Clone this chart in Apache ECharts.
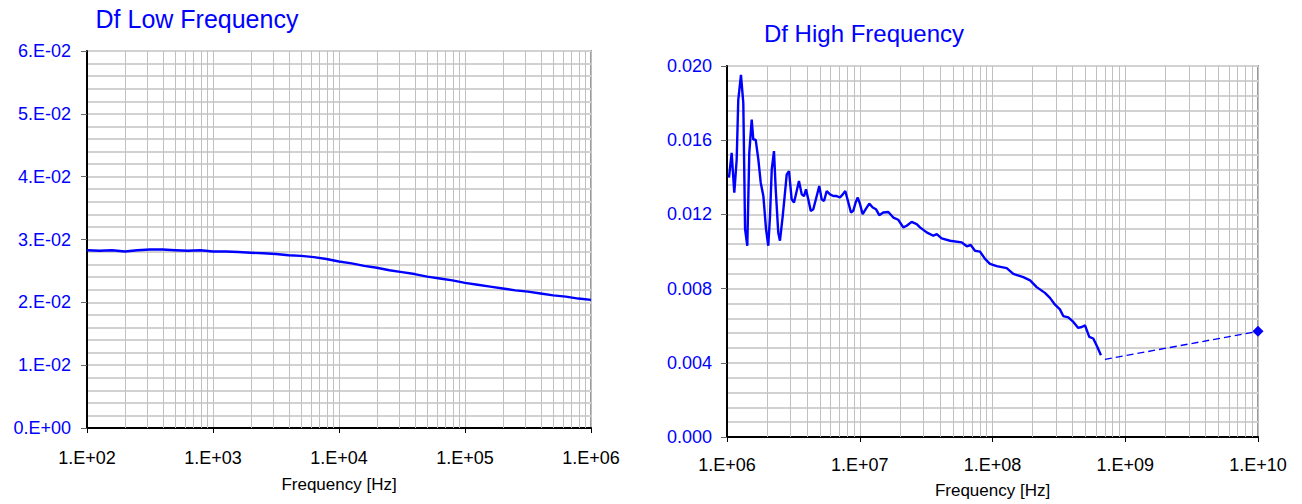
<!DOCTYPE html>
<html>
<head>
<meta charset="utf-8">
<title>Df Low / High Frequency</title>
<script src="https://cdn.jsdelivr.net/npm/echarts@6/dist/echarts.min.js"></script>
<style>
  html, body { margin: 0; padding: 0; background: #ffffff; }
  #chart { width: 1302px; height: 504px; }
</style>
</head>
<body>
<div id="chart"></div>
<script>
// ---- Low frequency sweep: frequency [Hz] and dissipation factor ----
const lowFreq = [
  100, 126, 158, 200, 251, 316, 398, 501, 631, 794,
  1000, 1259, 1585, 1995, 2512, 3162, 3981, 5012, 6310, 7943,
  10000, 12589, 15849, 19953, 25119, 31623, 39811, 50119, 63096, 79433,
  100000, 125893, 158489, 199526, 251189, 316228, 398107, 501187, 630957, 794328,
  1000000
];
const lowDf = [
  0.0283, 0.0282, 0.0283, 0.0281, 0.0283, 0.0284, 0.0284, 0.0283, 0.0282, 0.0283,
  0.0281, 0.0281, 0.0280, 0.0279, 0.0278, 0.0277, 0.0275, 0.0274, 0.0272, 0.0269,
  0.0265, 0.0262, 0.0258, 0.0255, 0.0251, 0.0248, 0.0245, 0.0241, 0.0238, 0.0235,
  0.0231, 0.0228, 0.0225, 0.0222, 0.0219, 0.0217, 0.0214, 0.0211, 0.0209, 0.0206,
  0.0204
];

// ---- High frequency sweep ----
const highFreq = [
  1.035e6, 1.084e6, 1.135e6, 1.183e6, 1.216e6, 1.274e6, 1.327e6, 1.368e6, 1.422e6, 1.472e6,
  1.535e6, 1.578e6, 1.644e6, 1.722e6, 1.795e6, 1.879e6, 1.968e6, 2.046e6, 2.109e6, 2.173e6,
  2.259e6, 2.328e6, 2.432e6, 2.506e6, 2.630e6, 2.735e6, 2.818e6, 2.931e6, 3.069e6, 3.199e6,
  3.350e6, 3.483e6, 3.656e6, 3.802e6, 3.936e6, 4.093e6, 4.276e6, 4.467e6, 4.742e6, 4.955e6,
  5.164e6, 5.383e6, 5.636e6, 5.970e6, 6.324e6, 6.699e6, 7.096e6, 7.447e6, 7.780e6, 8.204e6,
  8.590e6, 8.933e6, 9.311e6, 9.661e6, 1.005e7, 1.052e7, 1.109e7, 1.180e7, 1.253e7, 1.324e7,
  1.403e7, 1.503e7, 1.641e7, 1.791e7, 1.950e7, 2.128e7, 2.259e7, 2.460e7, 2.685e7, 2.844e7,
  3.192e7, 3.581e7, 3.802e7, 4.140e7, 4.786e7, 5.861e7, 6.397e7, 6.855e7, 7.379e7, 8.054e7,
  8.790e7, 9.572e7, 1.076e8, 1.279e8, 1.435e8, 1.706e8, 1.919e8, 2.153e8, 2.483e8, 2.710e8,
  2.958e8, 3.221e8, 3.412e8, 3.724e8, 4.064e8, 4.426e8, 4.699e8, 4.977e8, 5.358e8, 5.741e8,
  6.152e8, 6.561e8
];
const highDf = [
  0.01398, 0.01532, 0.01317, 0.01496, 0.01818, 0.01952, 0.01800, 0.01121, 0.01031, 0.01532,
  0.01711, 0.01603, 0.01603, 0.01496, 0.01371, 0.01299, 0.01121, 0.01031, 0.01192, 0.01442,
  0.01541, 0.01335, 0.01103, 0.01058, 0.01192, 0.01317, 0.01416, 0.01433, 0.01282, 0.01264,
  0.01326, 0.01380, 0.01308, 0.01299, 0.01335, 0.01282, 0.01219, 0.01228, 0.01299, 0.01353,
  0.01282, 0.01272, 0.01326, 0.01308, 0.01299, 0.01299, 0.01291, 0.01308, 0.01326, 0.01264,
  0.01210, 0.01219, 0.01264, 0.01291, 0.01255, 0.01201, 0.01228, 0.01258, 0.01237, 0.01228,
  0.01196, 0.01210, 0.01213, 0.01183, 0.01171, 0.01130, 0.01139, 0.01160, 0.01148, 0.01130,
  0.01103, 0.01085, 0.01094, 0.01071, 0.01058, 0.01049, 0.01028, 0.01035, 0.01004, 0.00999,
  0.00960, 0.00933, 0.00921, 0.00910, 0.00879, 0.00862, 0.00844, 0.00808, 0.00777, 0.00750,
  0.00713, 0.00688, 0.00652, 0.00645, 0.00620, 0.00588, 0.00593, 0.00602, 0.00540, 0.00531,
  0.00486, 0.00441
];
// Extrapolated segment out to 10 GHz
const extFreq = [7.03e8, 1e10];
const extDf = [0.00418, 0.0057];

// ---- Tick labels ----
const lowXLabels = ['1.E+02', '1.E+03', '1.E+04', '1.E+05', '1.E+06'];
const lowYLabels = ['0.E+00', '1.E-02', '2.E-02', '3.E-02', '4.E-02', '5.E-02', '6.E-02'];
const highXLabels = ['1.E+06', '1.E+07', '1.E+08', '1.E+09', '1.E+10'];

const titles = ['Df Low Frequency', 'Df High Frequency'];
const xName = 'Frequency [Hz]';

// ---- styling ----
const FONT = '"Liberation Sans", Arial, sans-serif';
const BLUE = '#0000ff';
const H_GRID = '#d2d2d2';
const V_GRID = '#c0c0c0';
const LABEL_SIZE = 18;

// intermediate decade lines (2..9 x 10^n) for log axes
function decadeMinors(fromExp, toExp) {
  const out = [];
  for (let e = fromExp; e < toExp; e++) {
    for (let k = 2; k <= 9; k++) out.push([k * Math.pow(10, e), 0]);
  }
  return out;
}

function minorGridSeries(idx, data, yTop) {
  return {
    type: 'custom',
    xAxisIndex: idx, yAxisIndex: idx,
    silent: true, z: 1,
    animation: false,
    encode: { x: 0, y: 1 },
    data: data,
    renderItem: function (params, api) {
      const x = api.value(0);
      const p1 = api.coord([x, yTop]);
      const p2 = api.coord([x, 0]);
      const px = Math.round(p1[0]) + 0.5;
      return {
        type: 'line',
        shape: { x1: px, y1: p1[1], x2: px, y2: p2[1] },
        style: { stroke: V_GRID, lineWidth: 1 }
      };
    }
  };
}

function xAxisCfg(idx, min, max, labels, labelMargin, nameGap) {
  const baseExp = Math.round(Math.log10(min));
  return {
    type: 'log', logBase: 10, gridIndex: idx,
    min: min, max: max,
    name: xName, nameLocation: 'middle', nameGap: nameGap,
    nameTextStyle: { color: '#000', fontSize: 17, fontFamily: FONT },
    axisLine: { show: true, lineStyle: { color: '#000', width: 2 } },
    axisTick: { show: true, inside: false, length: 5, lineStyle: { color: '#000', width: 1 } },
    axisLabel: {
      color: '#000', fontSize: LABEL_SIZE, fontFamily: FONT, margin: labelMargin,
      formatter: function (v) { return labels[Math.round(Math.log10(v)) - baseExp] || ''; }
    },
    splitLine: { show: true, lineStyle: { color: V_GRID, width: 1 } },
    minorTick: { show: false },
    minorSplitLine: { show: false }
  };
}

function yAxisCfg(idx, max, interval, formatter, labelMargin) {
  return {
    type: 'value', gridIndex: idx,
    min: 0, max: max, interval: interval,
    axisLine: { show: true, lineStyle: { color: '#000', width: 2 } },
    axisTick: { show: true, inside: false, length: 6, lineStyle: { color: '#666', width: 1 } },
    axisLabel: { color: BLUE, fontSize: LABEL_SIZE, fontFamily: FONT, margin: labelMargin, formatter: formatter },
    splitLine: { show: true, lineStyle: { color: H_GRID, width: 2 } },
    minorTick: { show: false, splitNumber: 5 },
    minorSplitLine: { show: true, lineStyle: { color: H_GRID, width: 2 } }
  };
}

const chart = echarts.init(document.getElementById('chart'), null, { renderer: 'svg' });

chart.setOption({
  animation: false,
  backgroundColor: '#ffffff',
  textStyle: { fontFamily: FONT },
  graphic: [
    {
      type: 'text', x: 197, y: 19, silent: true,
      style: { text: titles[0], fill: BLUE, font: '25px ' + FONT, align: 'center', verticalAlign: 'middle', textAlign: 'center', textVerticalAlign: 'middle' }
    },
    {
      type: 'text', x: 864, y: 33, silent: true,
      style: { text: titles[1], fill: BLUE, font: '24px ' + FONT, align: 'center', verticalAlign: 'middle', textAlign: 'center', textVerticalAlign: 'middle' }
    }
  ],
  grid: [
    { left: 87, top: 51, width: 504, height: 377, show: true, borderColor: '#9a9a9a', borderWidth: 2, backgroundColor: 'transparent', containLabel: false },
    { left: 727, top: 66, width: 531, height: 373, show: true, borderColor: '#9a9a9a', borderWidth: 2, backgroundColor: 'transparent', containLabel: false }
  ],
  xAxis: [
    xAxisCfg(0, 1e2, 1e6, lowXLabels, 21, 48),
    xAxisCfg(1, 1e6, 1e10, highXLabels, 19, 45)
  ],
  yAxis: [
    yAxisCfg(0, 0.06, 0.01, function (v) { return lowYLabels[Math.round(v / 0.01)] || ''; }, 16),
    yAxisCfg(1, 0.02, 0.004, function (v) { return v.toFixed(3); }, 15)
  ],
  series: [
    minorGridSeries(0, decadeMinors(2, 6), 0.06),
    minorGridSeries(1, decadeMinors(6, 10), 0.02),
    {
      name: titles[0], type: 'line', xAxisIndex: 0, yAxisIndex: 0, z: 5,
      data: lowFreq.map(function (f, i) { return [f, lowDf[i]]; }),
      showSymbol: false, symbol: 'none',
      lineStyle: { color: BLUE, width: 2.4 }
    },
    {
      name: titles[1], type: 'line', xAxisIndex: 1, yAxisIndex: 1, z: 5,
      data: highFreq.map(function (f, i) { return [f, highDf[i]]; }),
      showSymbol: false, symbol: 'none',
      lineStyle: { color: BLUE, width: 2.4 }
    },
    {
      name: titles[1] + ' ext', type: 'line', xAxisIndex: 1, yAxisIndex: 1, z: 5,
      clip: false,
      data: extFreq.map(function (f, i) {
        return i === extFreq.length - 1
          ? { value: [f, extDf[i]], symbol: 'diamond', symbolSize: 11 }
          : { value: [f, extDf[i]], symbol: 'none' };
      }),
      showSymbol: true,
      itemStyle: { color: BLUE },
      lineStyle: { color: BLUE, width: 1.3, type: [7, 4] }
    }
  ]
});
</script>
</body>
</html>
